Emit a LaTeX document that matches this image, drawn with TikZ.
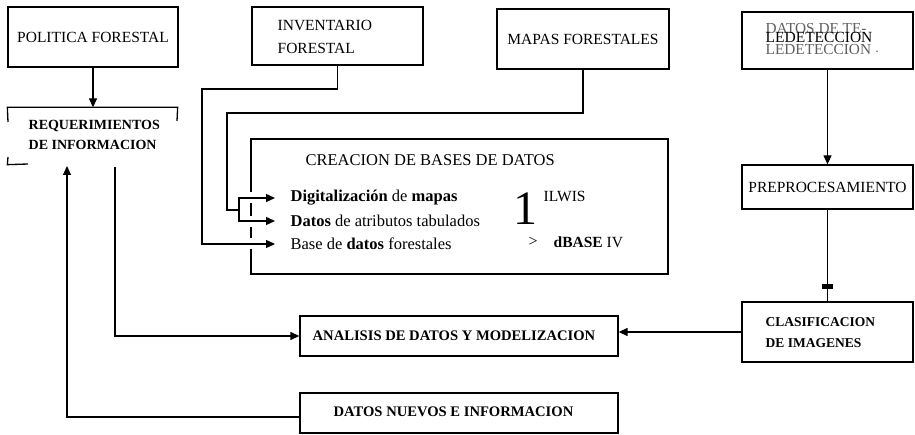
\documentclass[tikz,border=0pt]{standalone}
\usepackage{fontspec}
\setmainfont{Liberation Serif}
\usetikzlibrary{arrows.meta,calc}
\definecolor{tgray}{RGB}{95,95,95}
\begin{document}
\begin{tikzpicture}[x=1pt,y=-1pt,line width=1.3pt,
  box/.style={draw,rectangle,inner sep=0pt,font=\fontsize{15.5}{18}\selectfont},
  lbl/.style={inner sep=0pt,align=left,font=\fontsize{15.5}{23}\selectfont},
  row/.style={inner sep=0pt,anchor=west,font=\fontsize{16.5}{20}\selectfont},
  bld/.style={inner sep=0pt,align=left},
  arr/.style={-{Triangle[length=9pt,width=8pt]}},
  tickbar/.style={fill=black,draw=none,inner sep=0pt,minimum width=11pt,minimum height=4.5pt}]
\useasboundingbox (0,0) rectangle (915,435);

% boxes
\node[box,minimum width=170pt,minimum height=60pt] (pol) at (93,37) {POLITICA FORESTAL};
\node[box,minimum width=171pt,minimum height=58pt] (inv) at (337.5,36) {};
\node[lbl,anchor=west] (invt) at (277,37) {INVENTARIO\\FORESTAL};
\node[box,minimum width=172pt,minimum height=60pt] (map) at (583,39) {MAPAS FORESTALES};
\node[box,minimum width=171pt,minimum height=57pt] (tel) at (827.5,40.5) {};
\node[lbl,anchor=west,text=tgray,font=\fontsize{15.3}{21.5}\selectfont] (telg) at (765,39) {DATOS DE TE-\\LEDETECCION};
\node[lbl,anchor=west,font=\fontsize{15.5}{18}\selectfont] (telb) at (765,37) {LEDETECCION};
\node[inner sep=0pt,text=tgray,font=\fontsize{14}{16}\selectfont] (dot) at (877,52) {.};
\node[box,minimum width=171pt,minimum height=44pt] (pre) at (827.5,187) {PREPROCESAMIENTO};
\node[box,minimum width=171pt,minimum height=60pt] (cla) at (827.5,332) {};
\node[bld,anchor=west,font=\fontsize{13.5}{21}\selectfont\bfseries] (clat) at (765,332.5) {CLASIFICACION\\DE IMAGENES};
\node[box,minimum width=318pt,minimum height=40pt] (ana) at (459,336) {};
\node[bld,font=\fontsize{14.6}{18}\selectfont\bfseries] (anat) at (454,336) {ANALISIS DE DATOS Y MODELIZACION};
\node[box,minimum width=318pt,minimum height=40pt] (nue) at (459,413) {};
\node[bld,font=\fontsize{14.6}{18}\selectfont\bfseries] (nuet) at (453.5,412) {DATOS NUEVOS E INFORMACION};

% requerimientos (partly hidden box)
\node[draw=none,inner sep=0pt,minimum width=169pt,minimum height=56pt] (req) at (92.5,136) {};
\draw (8,122) -- (req.north west) -- (req.north east) -- (177,121);
\draw (8,157) -- (req.south west) -- (28,164);
\node[bld,anchor=west,font=\fontsize{14}{20}\selectfont\bfseries] (reqt) at (28,135) {REQUERIMIENTOS\\DE INFORMACION};

% creacion de bases de datos
\draw (251,192) -- (251,139) -- (668,139) -- (668,274) -- (251,274) -- (251,249);
\draw (251,203) -- (251,216);
\draw (251,227) -- (251,238);
\node[row] (crt) at (305,160) {CREACION DE BASES DE DATOS};
\node[row] (dig) at (290,198) {\textbf{Digitalización} de \textbf{mapas}};
\node[row] (dat) at (290,221) {\textbf{Datos} de atributos tabulados};
\node[row] (bas) at (290,244) {Base de \textbf{datos} forestales};
\node[inner sep=0pt,font=\fontsize{48}{50}\selectfont] (one) at (525,209) {1};
\node[row,font=\fontsize{15.5}{18}\selectfont] (ilw) at (543,196) {ILWIS};
\node[row,font=\fontsize{16}{18}\selectfont] (gt) at (528,242) {>};
\node[row,font=\fontsize{15.5}{18}\selectfont] (dbs) at (553,242) {\textbf{dBASE} IV};

% connectors
\draw[arr] (pol.south) -- (req.north -| pol.south);
\draw[arr] (tel.south) -- (pre.north);
\draw (pre.south) -- (cla.north) node[tickbar,pos=0.84] (tick) {};
\draw[arr] (cla.west) -- (cla.west -| ana.east);

\coordinate (anstart) at (115,167);
\draw[arr] (anstart) |- (ana.west);
\coordinate (reqin) at (67,166);
\draw[arr] ([yshift=-4pt]nue.west) -| (reqin);

\coordinate (invturn) at (202,89);
\draw[arr,shorten >=15pt] (inv.south) |- (invturn) |- (bas.west);

\coordinate (mapturn) at (227,113);
\coordinate (fork) at (239,210);
\draw (map.south) |- (mapturn) |- (fork);
\draw[arr,shorten >=15pt] (fork) |- (dig.west);
\draw[arr,shorten >=15pt] (fork) |- (dat.west);
\end{tikzpicture}
\end{document}
